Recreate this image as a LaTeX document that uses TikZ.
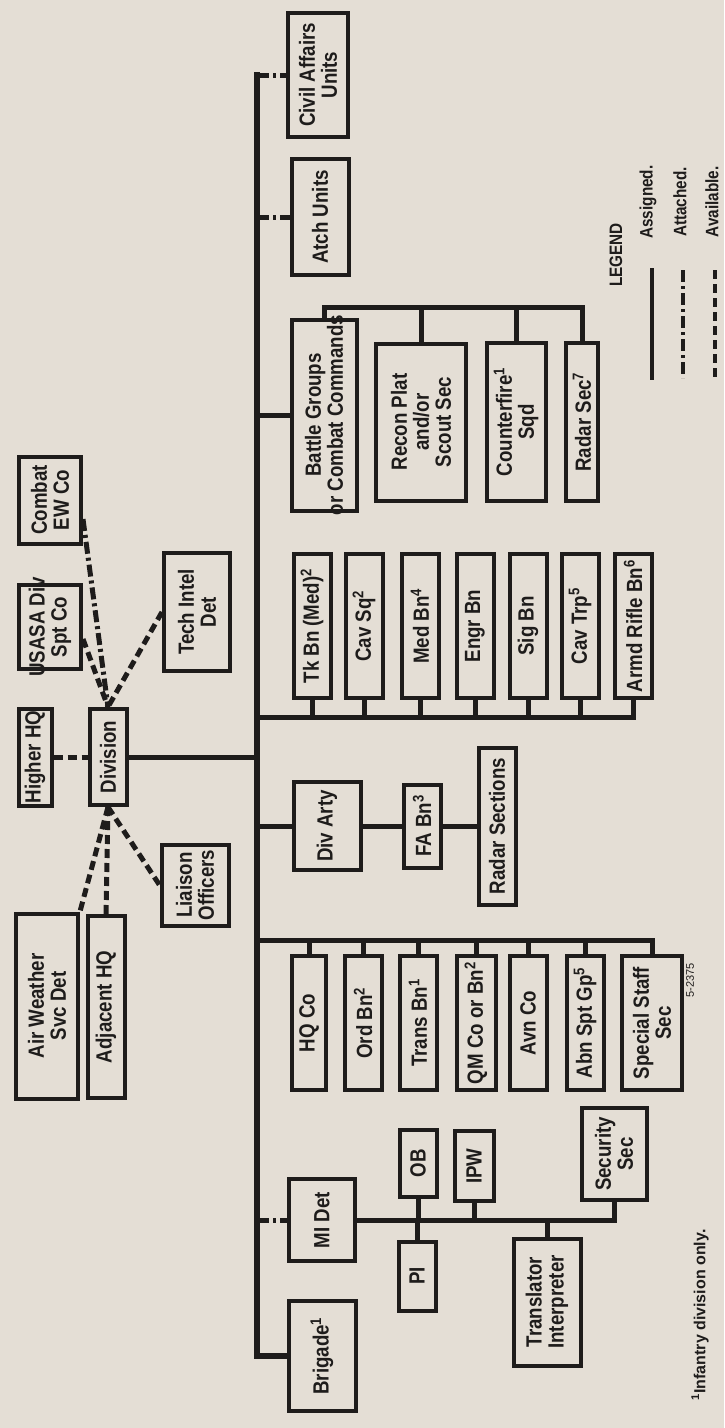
\documentclass[tikz,border=0pt]{standalone}
\usepackage{fontspec}
\usepackage{tikz}
\newfontfamily\chartfont{Liberation Sans}[FakeStretch=0.85]
\newfontfamily\notefont{Liberation Sans}
\definecolor{ink}{RGB}{30,28,27}
\definecolor{paper}{RGB}{228,222,213}
\tikzset{dims/.style 2 args={minimum width=#1pt, minimum height=#2pt}}

\begin{document}
\begin{tikzpicture}[
  x=1pt, y=-1pt,
  unit/.style={draw=ink, text=ink, line width=4pt, rotate=90, align=center,
    inner sep=1pt, font=\chartfont\bfseries\fontsize{22}{22}\selectfont},
  link/.style={draw=ink, line width=5pt},
  assigned/.style={link, line cap=rect},
  trunk/.style={assigned, line width=6pt},
  attached/.style={link, dash pattern=on 12pt off 4pt on 3pt off 4pt},
  available/.style={link, dash pattern=on 9pt off 5pt},
  legendtext/.style={text=ink, rotate=90, inner sep=0pt,
    font=\chartfont\bfseries\fontsize{18}{18}\selectfont}
  ]

  \fill[paper] (0,0) rectangle (724,1428);
  \useasboundingbox (0,0) rectangle (724,1428);

  % outside the division
  \node[unit, dims={87}{62}]  (ewco)      at (50,500)   {Combat\\EW Co};
  \node[unit, dims={84}{62}]  (usasa)     at (50,627)   {\makebox[80pt]{USASA Div}\\Spt Co};
  \node[unit, dims={97}{33}]  (higherhq)  at (35,757)   {Higher HQ};
  \node[unit, dims={96}{37}]  (div)       at (108,757)  {Division};
  \node[unit, dims={118}{66}] (techintel) at (197,612)  {Tech Intel\\Det};
  \node[unit, dims={81}{67}]  (liaison)   at (195,885)  {Liaison\\Officers};
  \node[unit, dims={185}{62}] (airwx)     at (47,1006)  {Air Weather\\Svc Det};
  \node[unit, dims={182}{37}] (adjhq)     at (106,1007) {Adjacent HQ};

  % attached units and battle groups
  \node[unit, dims={124}{60}] (civil)  at (318,75)  {Civil Affairs\\Units};
  \node[unit, dims={116}{57}] (atch)   at (320,217) {Atch Units};
  \node[unit, dims={191}{65}] (bg)     at (324,415) {Battle Groups\\\makebox[185pt]{or Combat Commands}};
  \node[unit, dims={157}{90}] (recon)  at (421,422) {Recon Plat\\and/or\\Scout Sec};
  \node[unit, dims={158}{59}] (cfire)  at (516,422) {Counterfire\textsuperscript{1}\\Sqd};
  \node[unit, dims={158}{32}] (radar)  at (582,422) {Radar Sec\textsuperscript{7}};

  % combat and support battalions
  \node[unit, dims={144}{37}] (tkbn)   at (312,626) {Tk Bn (Med)\textsuperscript{2}};
  \node[unit, dims={144}{37}] (cavsq)  at (364,626) {Cav Sq\textsuperscript{2}};
  \node[unit, dims={144}{37}] (medbn)  at (420,626) {Med Bn\textsuperscript{4}};
  \node[unit, dims={144}{37}] (engr)   at (475,626) {Engr Bn};
  \node[unit, dims={144}{37}] (sig)    at (528,626) {Sig Bn};
  \node[unit, dims={144}{37}] (cavtrp) at (580,626) {Cav Trp\textsuperscript{5}};
  \node[unit, dims={144}{37}] (armd)   at (633,626) {Armd Rifle Bn\textsuperscript{6}};

  % artillery
  \node[unit, dims={88}{67}]  (divarty)  at (327,826) {Div Arty};
  \node[unit, dims={83}{37}]  (fabn)     at (422,826) {FA Bn\textsuperscript{3}};
  \node[unit, dims={157}{37}] (radarsec) at (497,826) {Radar Sections};

  % division troops
  \node[unit, dims={134}{34}] (hqco)    at (309,1023) {HQ Co};
  \node[unit, dims={134}{37}] (ordbn)   at (363,1023) {Ord Bn\textsuperscript{2}};
  \node[unit, dims={134}{37}] (transbn) at (418,1023) {Trans Bn\textsuperscript{1}};
  \node[unit, dims={134}{39}] (qm)      at (476,1023) {QM Co or Bn\textsuperscript{2}};
  \node[unit, dims={134}{37}] (avn)     at (528,1023) {Avn Co};
  \node[unit, dims={134}{37}] (abn)     at (585,1023) {Abn Spt Gp\textsuperscript{5}};
  \node[unit, dims={134}{60}] (spstaff) at (652,1023) {Special Staff\\Sec};

  % intelligence
  \node[unit, dims={82}{66}]  (midet)    at (322,1220) {MI Det};
  \node[unit, dims={67}{37}]  (ob)       at (418,1163) {OB};
  \node[unit, dims={70}{39}]  (ipw)      at (474,1166) {IPW};
  \node[unit, dims={69}{37}]  (pi)       at (417,1276) {PI};
  \node[unit, dims={92}{65}]  (security) at (614,1154) {Security\\Sec};
  \node[unit, dims={127}{67}] (transl)   at (547,1302) {Translator\\Interpreter};
  \node[unit, dims={110}{67}] (brigade)  at (322,1356) {Brigade\textsuperscript{1}};

  \coordinate (trunk top) at (257,75);
  \coordinate (arms bus)  at (257,717);
  \coordinate (svc bus)   at (257,940);
  \coordinate (bg bus)    at (320,307);

  % assigned
  \draw[trunk] (trunk top) -- (trunk top |- brigade) -- (brigade.north);
  \draw[assigned] (div.south) -- (div.south -| trunk top);
  \draw[assigned] (bg.north -| trunk top) -- (bg.north);
  \draw[assigned] (bg.east) -- (bg.east |- bg bus) -| (radar.east)
    (recon.east) -- (recon.east |- bg bus)
    (cfire.east) -- (cfire.east |- bg bus);
  \draw[assigned] (arms bus) -| (armd.west)
    (tkbn.west)   -- (tkbn.west |- arms bus)
    (cavsq.west)  -- (cavsq.west |- arms bus)
    (medbn.west)  -- (medbn.west |- arms bus)
    (engr.west)   -- (engr.west |- arms bus)
    (sig.west)    -- (sig.west |- arms bus)
    (cavtrp.west) -- (cavtrp.west |- arms bus);
  \draw[assigned] (divarty.north -| trunk top) -- (divarty.north)
    (divarty.south) -- (fabn.north)
    (fabn.south) -- (radarsec.north);
  \draw[assigned] (svc bus) -| (spstaff.east)
    (hqco.east)    -- (hqco.east |- svc bus)
    (ordbn.east)   -- (ordbn.east |- svc bus)
    (transbn.east) -- (transbn.east |- svc bus)
    (qm.east)      -- (qm.east |- svc bus)
    (avn.east)     -- (avn.east |- svc bus)
    (abn.east)     -- (abn.east |- svc bus);
  \draw[assigned] (midet.south) -| (security.west)
    (ob.west)     -- (ob.west |- midet.south)
    (pi.east)     -- (pi.east |- midet.south)
    (ipw.west)    -- (ipw.west |- midet.south)
    (transl.east) -- (transl.east |- midet.south);

  % attached
  \draw[attached] (trunk top) -- (civil.north);
  \draw[attached] (atch.north -| trunk top) -- (atch.north);
  \draw[attached] (midet.north -| trunk top) -- (midet.north);
  \draw[attached] (ewco.240) -- (div.east);

  % available
  \draw[available] (higherhq.south) -- (div.north);
  \draw[available] (usasa.250) -- (div.east);
  \draw[available] (techintel.north) -- (div.east);
  \draw[available] (div.west) -- (liaison.north);
  \draw[available] (div.west) -- (airwx.south east);
  \draw[available] (div.west) -- (adjhq.east);

  % legend
  \node[legendtext] (legend)   at (616,255) {LEGEND};
  \node[legendtext] (asglabel) at (648,202) {Assigned.};
  \node[legendtext] (atclabel) at (680,202) {Attached.};
  \node[legendtext] (avllabel) at (712,202) {Available.};
  \coordinate (asg a) at (652,270);
  \coordinate (asg b) at (652,378);
  \coordinate (atc a) at (683,270);
  \coordinate (atc b) at (683,378);
  \coordinate (avl a) at (715,270);
  \coordinate (avl b) at (715,378);
  \draw[assigned, line width=4pt] (asg a) -- (asg b);
  \draw[attached, line width=4pt] (atc a) -- (atc b);
  \draw[available, line width=4pt] (avl a) -- (avl b);

  % notes
  \node[text=ink, rotate=90, inner sep=0pt,
    font=\notefont\bfseries\fontsize{16}{16}\selectfont] (footnote) at (700,1315)
    {\textsuperscript{1}Infantry division only.};
  \node[text=ink, rotate=90, inner sep=0pt,
    font=\notefont\fontsize{11}{11}\selectfont] (fignum) at (690,980) {5-2375};
\end{tikzpicture}
\end{document}
